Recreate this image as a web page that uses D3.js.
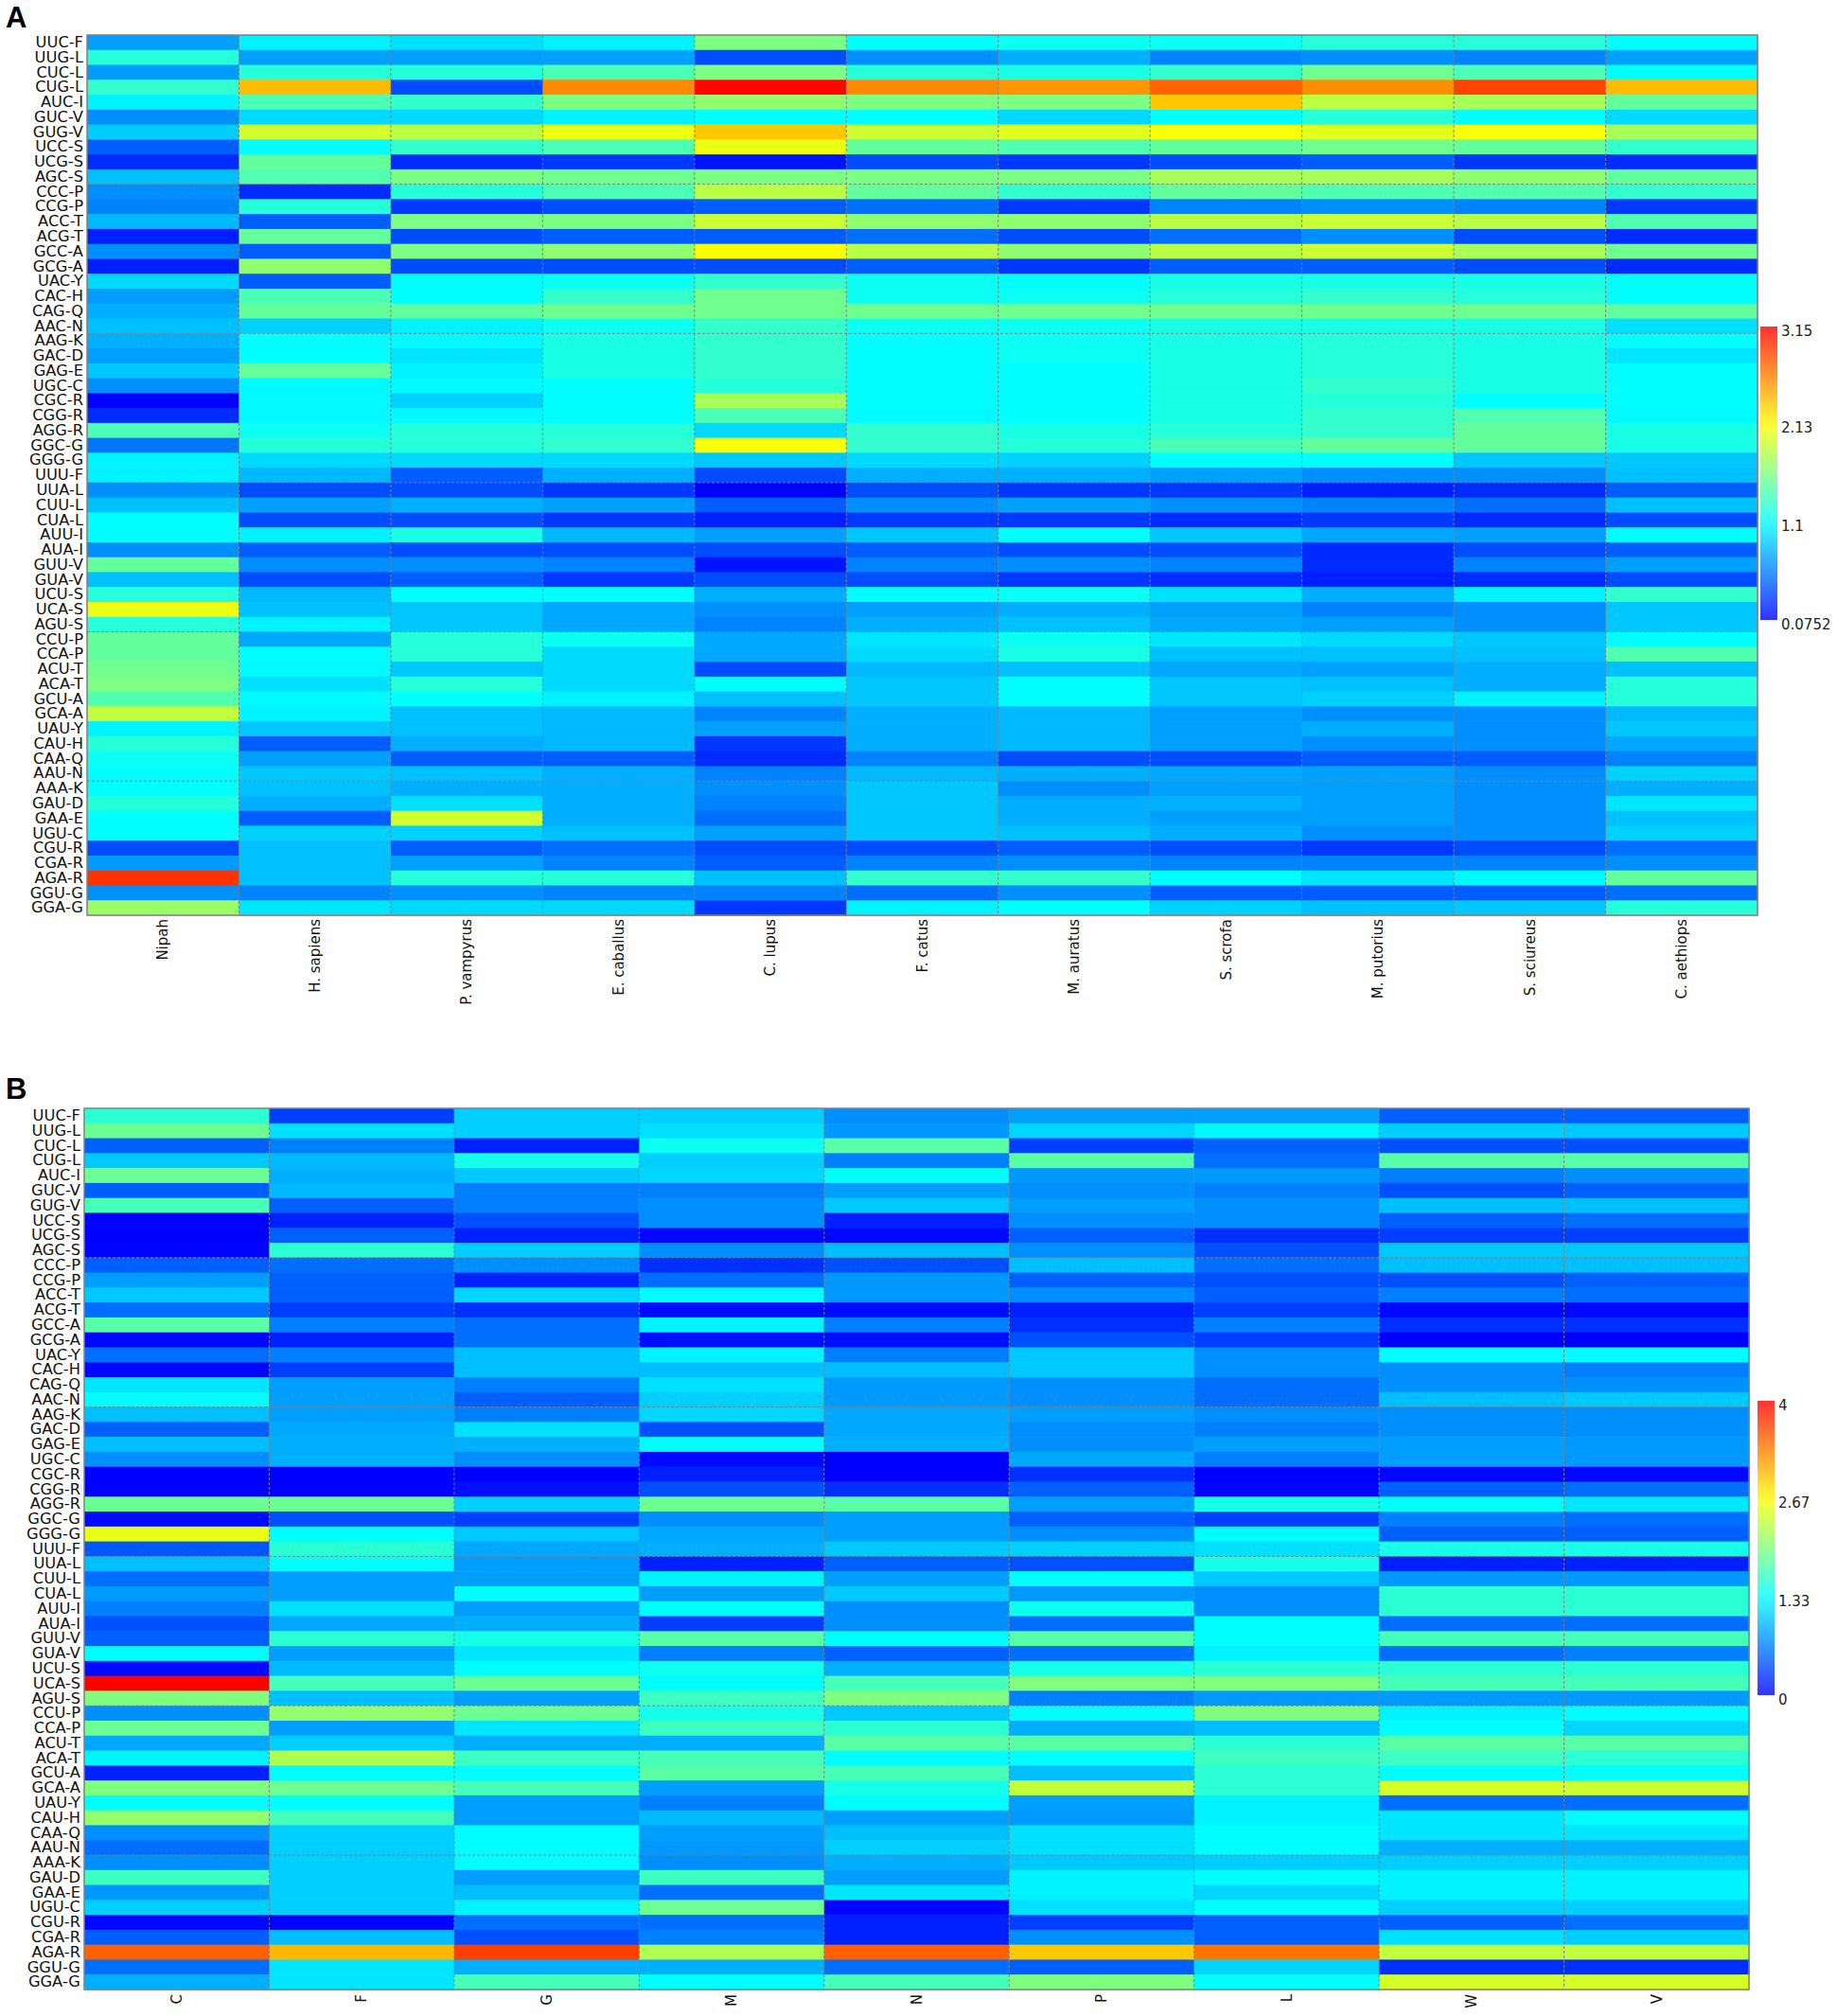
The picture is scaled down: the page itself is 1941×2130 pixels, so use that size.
<!DOCTYPE html>
<html>
<head>
<meta charset="utf-8">
<script src="https://cdn.jsdelivr.net/npm/d3@7/dist/d3.min.js"></script>
</head>
<body style="margin: 0; background: #ffffff;">
<div id="chart"></div>
<script>
'use strict';

// codon rows, top to bottom (same order in both panels)
var codons = [
  "UUC-F","UUG-L","CUC-L","CUG-L","AUC-I","GUC-V","GUG-V","UCC-S","UCG-S","AGC-S",
  "CCC-P","CCG-P","ACC-T","ACG-T","GCC-A","GCG-A","UAC-Y","CAC-H","CAG-Q","AAC-N",
  "AAG-K","GAC-D","GAG-E","UGC-C","CGC-R","CGG-R","AGG-R","GGC-G","GGG-G","UUU-F",
  "UUA-L","CUU-L","CUA-L","AUU-I","AUA-I","GUU-V","GUA-V","UCU-S","UCA-S","AGU-S",
  "CCU-P","CCA-P","ACU-T","ACA-T","GCU-A","GCA-A","UAU-Y","CAU-H","CAA-Q","AAU-N",
  "AAA-K","GAU-D","GAA-E","UGU-C","CGU-R","CGA-R","AGA-R","GGU-G","GGA-G"
];

// ---- panel A : RSCU of Nipah and hosts ----
var hostsA = ["Nipah","H. sapiens","P. vampyrus","E. caballus","C. lupus","F. catus",
              "M. auratus","S. scrofa","M. putorius","S. sciureus","C. aethiops"];
var ticksA = [3.15, 2.13, 1.1, 0.0752];

var nipah = [0.72,1.25,0.70,1.30,1.05,0.65,0.90,0.45,0.25,0.85, 0.65,0.60,0.82,0.20,0.65,0.20,0.95,0.70,0.78,0.85,
             0.78,0.72,0.88,0.65,0.08,0.25,1.40,0.55,1.05,1.05, 0.65,0.85,1.10,1.10,0.65,1.50,0.85,1.25,2.05,1.25,
             1.50,1.50,1.55,1.60,1.42,1.88,1.05,1.25,1.15,1.10, 1.10,1.25,1.10,1.10,0.38,0.70,2.95,0.65,1.72];
var hSapiens = [1.05,0.72,1.25,2.40,1.40,0.95,1.95,1.10,1.50,1.42, 0.25,1.25,0.45,1.50,0.45,1.68,0.45,1.40,1.50,0.92,
                1.10,1.10,1.50,1.08,1.08,1.08,1.15,1.25,0.95,0.82, 0.38,0.72,0.38,1.05,0.45,0.65,0.38,0.82,0.85,1.05,
                0.75,1.10,1.08,0.98,1.08,1.05,0.88,0.45,0.72,0.88, 0.85,0.78,0.45,0.92,0.85,0.85,0.85,0.60,1.00];
var pVampyrus = [0.98,0.72,1.25,0.38,1.30,0.95,1.85,1.30,0.25,1.60, 1.25,0.30,1.60,0.38,1.60,0.38,1.10,1.10,1.50,1.05,
                 1.08,1.00,1.05,1.08,0.92,1.08,1.25,1.25,0.95,0.45, 0.38,0.78,0.38,1.20,0.38,0.65,0.45,1.10,0.88,0.88,
                 1.25,1.25,0.88,1.25,1.10,0.85,0.85,0.78,0.45,0.85, 0.78,0.98,1.95,0.92,0.45,0.72,1.25,0.65,0.95];
var eCaballus = [1.05,0.72,1.40,2.60,1.60,1.05,2.05,1.40,0.30,1.55, 1.40,0.38,1.60,0.45,1.68,0.38,1.15,1.30,1.55,1.15,
                 1.20,1.20,1.20,1.10,1.10,1.10,1.25,1.30,0.95,0.78, 0.30,0.72,0.30,0.82,0.38,0.60,0.30,1.10,0.75,0.75,
                 1.15,0.95,0.95,0.95,1.05,0.82,0.82,0.82,0.45,0.78, 0.78,0.78,0.78,0.85,0.52,0.60,1.25,0.60,0.95];
var cLupus = [1.60,0.38,1.60,3.12,1.68,1.10,2.35,2.05,0.15,1.60, 1.85,0.45,1.92,0.45,2.13,0.38,1.30,1.55,1.55,1.30,
              1.30,1.30,1.30,1.25,1.77,1.40,0.95,2.10,0.88,0.38, 0.08,0.45,0.20,0.72,0.38,0.15,0.38,0.78,0.65,0.60,
              0.75,0.75,0.38,1.10,0.85,0.60,0.72,0.30,0.25,0.60, 0.65,0.60,0.52,0.72,0.38,0.45,0.85,0.60,0.30];
var fCatus = [1.10,0.65,1.25,2.60,1.60,1.10,1.92,1.50,0.38,1.60, 1.50,0.52,1.68,0.52,1.85,0.45,1.15,1.15,1.55,1.15,
              1.10,1.10,1.10,1.10,1.10,1.08,1.30,1.30,0.95,0.78, 0.38,0.65,0.30,0.88,0.45,0.60,0.38,1.10,0.72,0.78,
              1.00,0.95,0.82,0.88,0.88,0.78,0.78,0.78,0.60,0.82, 0.88,0.88,0.88,0.88,0.38,0.60,1.30,0.52,1.05];
var mAuratus = [1.15,0.78,1.20,2.55,1.60,0.95,2.00,1.42,0.30,1.60, 1.30,0.30,1.68,0.38,1.68,0.30,1.10,1.15,1.55,1.15,
                1.15,1.15,1.10,1.10,1.10,1.10,1.20,1.25,0.92,0.78, 0.30,0.72,0.30,1.10,0.38,0.65,0.30,1.15,0.78,0.85,
                1.15,1.20,0.85,1.10,1.10,0.82,0.82,0.82,0.38,0.78, 0.65,0.78,0.78,0.85,0.45,0.65,1.30,0.65,1.10];
var sScrofa = [1.15,0.60,1.30,2.75,2.35,1.10,2.10,1.50,0.38,1.77, 1.50,0.60,1.85,0.52,1.85,0.45,1.20,1.25,1.55,1.20,
               1.20,1.20,1.20,1.20,1.20,1.20,1.25,1.40,1.10,0.72, 0.30,0.65,0.25,0.88,0.38,0.60,0.25,0.98,0.72,0.75,
               1.00,0.85,0.75,0.88,0.88,0.72,0.72,0.72,0.38,0.75, 0.72,0.78,0.72,0.78,0.38,0.60,1.10,0.45,0.92];
var mPutorius = [1.25,0.65,1.55,2.58,1.85,1.25,2.00,1.55,0.45,1.77, 1.42,0.65,1.92,0.65,1.92,0.45,1.20,1.30,1.55,1.20,
                 1.25,1.25,1.25,1.30,1.25,1.30,1.30,1.50,1.10,0.65, 0.20,0.60,0.30,0.75,0.25,0.25,0.20,0.78,0.60,0.72,
                 0.95,0.85,0.72,0.85,0.92,0.65,0.78,0.65,0.45,0.72, 0.72,0.72,0.72,0.65,0.30,0.60,1.00,0.45,0.85];
var sSciureus = [1.25,0.60,1.40,2.88,1.77,1.10,2.10,1.50,0.30,1.68, 1.42,0.60,1.85,0.38,1.77,0.38,1.20,1.25,1.55,1.20,
                 1.20,1.20,1.20,1.20,1.10,1.42,1.50,1.50,0.88,0.65, 0.25,0.52,0.25,0.72,0.38,0.60,0.25,1.05,0.65,0.65,
                 0.88,0.85,0.78,0.78,1.05,0.65,0.65,0.65,0.45,0.65, 0.65,0.65,0.65,0.65,0.38,0.60,1.08,0.45,0.88];
var cAethiops = [1.10,0.72,1.10,2.40,1.50,0.95,1.77,1.30,0.25,1.50, 1.30,0.30,1.42,0.25,1.55,0.25,1.10,1.10,1.50,0.98,
                 1.10,1.00,1.10,1.10,1.10,1.08,1.20,1.20,0.88,0.85, 0.45,0.85,0.38,1.10,0.45,0.72,0.38,1.30,0.88,0.88,
                 1.10,1.42,0.85,1.25,1.25,0.82,0.88,0.75,0.60,0.92, 0.78,1.00,0.85,0.92,0.52,0.65,1.50,0.52,1.25];

// ---- panel B : RSCU per Nipah gene ----
var genesB = ["C","F","G","M","N","P","L","W","V"];
var ticksB = [4, 2.67, 1.33, 0];

var geneC = [1.56,1.90,0.50,1.05,1.90,0.50,1.70,0.00,0.00,0.02, 0.50,0.83,1.05,0.58,1.80,0.03,0.58,0.03,1.20,1.33,
             1.00,0.50,1.00,0.75,0.00,0.00,1.90,0.05,2.55,0.45, 1.00,0.58,0.80,0.67,0.42,0.50,1.33,0.05,4.00,2.00,
             0.75,1.90,0.88,1.27,0.17,2.00,1.33,2.10,0.75,0.58, 0.75,1.65,0.80,1.08,0.03,0.50,3.50,0.58,0.92];
var geneF = [0.33,1.17,0.67,0.97,0.92,0.97,0.50,0.17,0.50,1.56, 0.58,0.50,0.50,0.33,0.67,0.17,0.67,0.33,0.83,0.83,
             0.83,0.88,0.92,0.92,0.00,0.00,1.90,0.42,1.33,1.56, 1.33,0.83,0.83,1.17,0.88,1.56,0.83,0.97,1.70,1.00,
             2.10,0.83,1.08,2.25,1.33,1.90,1.33,1.70,1.08,1.08, 1.08,1.08,1.08,1.08,0.02,1.00,3.05,1.20,1.20];
var geneG = [1.08,1.08,0.17,1.45,1.05,0.67,0.67,0.42,0.17,1.08, 0.75,0.17,1.12,0.25,0.58,0.58,1.00,1.00,0.67,0.50,
             0.67,1.17,0.92,0.75,0.00,0.08,1.08,0.33,1.05,0.88, 0.83,0.83,1.33,0.83,0.92,1.45,1.20,1.33,1.90,0.83,
             1.90,1.20,0.92,1.65,1.33,1.70,0.83,0.83,1.33,1.33, 1.33,0.83,1.00,1.27,0.58,0.42,3.67,0.92,1.70];
var geneM = [1.08,1.17,1.40,1.08,1.12,0.67,0.75,0.75,0.03,0.75, 0.25,0.58,1.33,0.05,1.27,0.08,1.27,1.00,1.17,1.08,
             1.12,0.42,1.33,0.05,0.17,0.42,1.90,0.75,0.88,0.92, 0.17,1.27,0.83,1.33,0.33,1.80,0.67,1.40,1.33,1.65,
             1.45,1.65,0.92,1.70,1.80,0.83,0.67,0.97,0.83,0.80, 0.75,1.65,0.58,1.90,0.58,0.67,2.25,0.92,1.33];
var geneN = [0.75,0.80,1.80,0.67,1.33,0.83,1.05,0.17,0.03,1.00, 0.42,0.80,0.80,0.05,0.67,0.08,0.67,1.00,0.80,0.80,
             0.88,0.88,0.92,0.00,0.00,0.25,1.80,0.83,0.83,1.05, 0.50,0.83,1.05,0.75,0.75,1.33,0.50,0.92,1.70,2.00,
             1.05,1.56,1.80,1.33,1.70,1.45,1.33,0.83,1.00,1.08, 0.92,0.83,1.20,0.03,0.17,0.17,3.50,0.58,1.70];
var geneP = [0.83,1.12,0.33,1.80,0.80,0.75,0.83,0.75,0.50,0.75, 1.00,0.50,0.75,0.17,0.25,0.42,1.05,1.05,0.75,0.75,
             0.83,0.75,0.75,0.88,0.25,0.50,0.83,0.50,0.75,1.10, 0.42,1.33,0.80,1.40,0.58,1.80,0.58,1.45,2.00,0.67,
             1.33,0.92,1.80,1.33,1.00,2.35,0.83,0.80,1.17,1.17, 1.05,1.27,1.27,1.17,0.33,0.75,2.95,0.50,2.00];
var geneL = [0.83,1.30,0.50,0.58,0.80,0.67,0.75,0.75,0.25,0.42, 0.58,0.42,0.50,0.33,0.67,0.33,0.75,0.75,0.58,0.58,
             0.75,0.67,0.83,0.67,0.00,0.02,1.45,0.33,1.33,1.17, 1.45,1.05,0.75,0.75,1.33,1.33,1.27,1.56,2.00,0.80,
             2.00,1.00,1.56,1.65,1.56,1.56,1.27,1.27,1.33,1.33, 1.08,1.33,1.12,1.33,0.50,0.50,3.40,1.12,1.33];
var geneW = [0.50,1.08,0.42,1.80,0.67,0.42,1.00,0.50,0.33,1.05, 1.00,0.42,0.67,0.03,0.25,0.00,1.33,0.75,0.75,1.00,
             0.75,0.75,0.83,0.83,0.03,0.50,1.33,0.67,0.50,1.45, 0.17,0.80,1.56,1.56,0.58,1.70,0.58,1.56,1.70,0.80,
             1.27,1.33,1.80,1.65,1.33,2.45,0.58,1.20,1.20,0.92, 1.08,1.27,1.27,1.08,0.50,1.17,2.35,0.25,2.45];
var geneV = [0.50,1.05,0.42,1.80,0.75,0.50,1.00,0.58,0.33,1.05, 1.00,0.50,0.58,0.03,0.25,0.00,1.33,0.67,0.75,1.05,
             0.75,0.75,0.80,0.80,0.03,0.58,1.20,0.58,0.50,1.45, 0.17,0.80,1.56,1.56,0.58,1.70,0.67,1.56,1.70,0.80,
             1.33,1.12,1.80,1.56,1.33,2.40,0.58,1.33,1.20,0.92, 1.08,1.27,1.27,1.08,0.58,1.08,2.35,0.25,2.45];

var columnsA = [nipah, hSapiens, pVampyrus, eCaballus, cLupus, fCatus, mAuratus, sScrofa, mPutorius, sSciureus, cAethiops];
var columnsB = [geneC, geneF, geneG, geneM, geneN, geneP, geneL, geneW, geneV];

var W = 1941, H = 2130;
var labelFont = "'DejaVu Sans', Verdana, sans-serif";
var gridColor = "#808080";

var svg = d3.select("#chart").append("svg")
    .attr("width", W)
    .attr("height", H)
    .style("display", "block")
    .style("background", "#ffffff");

// jet-like map: blue -> cyan -> yellow -> red
function jet(lo, hi) {
    var span = hi - lo;
    return d3.scaleLinear()
        .domain([lo, lo + span / 3, lo + 2 * span / 3, hi])
        .range(["#0000ff", "#00ffff", "#ffff00", "#ff0000"])
        .clamp(true);
}

function drawPanel(opt) {
    var g = svg.append("g");
    var color = jet(opt.min, opt.max);

    var x = d3.scaleBand().domain(opt.cols).range([opt.left, opt.right]);
    var y = d3.scaleBand().domain(codons).range([opt.top, opt.bottom]);

    var cells = [];
    opt.data.forEach(function(col, ci) {
        col.forEach(function(v, ri) {
            cells.push({col: opt.cols[ci], row: codons[ri], value: v});
        });
    });

    g.append("g").selectAll("rect")
        .data(cells)
        .enter().append("rect")
        .attr("x", function(d) { return x(d.col); })
        .attr("y", function(d) { return y(d.row); })
        .attr("width", x.bandwidth() + 0.6)
        .attr("height", y.bandwidth() + 0.6)
        .attr("fill", function(d) { return color(d.value); });

    // dashed grid: every column, every 10 rows
    var grid = g.append("g")
        .attr("stroke", gridColor)
        .attr("stroke-width", 1)
        .attr("stroke-dasharray", "3,2");
    grid.selectAll("line.v")
        .data(opt.cols.slice(1))
        .enter().append("line")
        .attr("class", "v")
        .attr("x1", function(d) { return x(d); })
        .attr("x2", function(d) { return x(d); })
        .attr("y1", opt.top)
        .attr("y2", opt.bottom);
    grid.selectAll("line.h")
        .data(codons.filter(function(d, i) { return i > 0 && i % 10 === 0; }))
        .enter().append("line")
        .attr("class", "h")
        .attr("x1", opt.left)
        .attr("x2", opt.right)
        .attr("y1", function(d) { return y(d); })
        .attr("y2", function(d) { return y(d); });

    g.append("rect")
        .attr("x", opt.left)
        .attr("y", opt.top)
        .attr("width", opt.right - opt.left)
        .attr("height", opt.bottom - opt.top)
        .attr("fill", "none")
        .attr("stroke", gridColor)
        .attr("stroke-width", 1.5);

    // row labels
    var yAxis = g.append("g")
        .attr("transform", "translate(" + opt.left + ",0)")
        .call(d3.axisLeft(y).tickSize(0).tickPadding(4));
    yAxis.select(".domain").remove();
    yAxis.selectAll("text")
        .style("font-family", labelFont)
        .style("font-size", "16.3px")
        .attr("fill", "#111");

    // column labels, rotated
    var xAxis = g.append("g")
        .attr("transform", "translate(0," + opt.bottom + ")")
        .call(d3.axisBottom(x).tickSize(0));
    xAxis.select(".domain").remove();
    xAxis.selectAll("text")
        .attr("transform", "rotate(-90)")
        .attr("x", -opt.labelGap)
        .attr("y", 0)
        .attr("dy", "0.35em")
        .style("text-anchor", "end")
        .style("font-family", labelFont)
        .style("font-size", "15px")
        .attr("fill", "#111");

    // colour bar
    var gradId = "grad" + opt.name;
    var grad = svg.append("defs").append("linearGradient")
        .attr("id", gradId)
        .attr("x1", "0").attr("y1", "1").attr("x2", "0").attr("y2", "0");
    d3.range(0, 1.0001, 0.05).forEach(function(t) {
        grad.append("stop")
            .attr("offset", t)
            .attr("stop-color", color(opt.min + t * (opt.max - opt.min)));
    });
    var cb = d3.scaleLinear().domain([opt.min, opt.max]).range([opt.cbBottom, opt.cbTop]);
    g.append("rect")
        .attr("x", opt.cbX)
        .attr("y", opt.cbTop)
        .attr("width", 18)
        .attr("height", opt.cbBottom - opt.cbTop)
        .attr("fill", "url(#" + gradId + ")")
        .attr("opacity", 0.8);
    var cAxis = g.append("g")
        .attr("transform", "translate(" + (opt.cbX + 18) + ",0)")
        .call(d3.axisRight(cb).tickValues(opt.ticks).tickSize(0).tickPadding(4)
              .tickFormat(function(d) { return String(d); }));
    cAxis.select(".domain").remove();
    cAxis.selectAll("text")
        .attr("dy", "0.6em")
        .style("font-family", labelFont)
        .style("font-size", "15px")
        .attr("fill", "#222");

    // panel letter
    svg.append("text")
        .attr("x", 6)
        .attr("y", opt.letterY)
        .style("font-family", "'Liberation Sans', Arial, sans-serif")
        .style("font-weight", "bold")
        .style("font-size", "31px")
        .text(opt.name);
}

drawPanel({
    name: "A", cols: hostsA, data: columnsA, min: 0.0752, max: 3.15, ticks: ticksA,
    left: 92, right: 1857, top: 37, bottom: 967, labelGap: 4,
    cbX: 1860, cbTop: 345, cbBottom: 655, letterY: 29
});

drawPanel({
    name: "B", cols: genesB, data: columnsB, min: 0, max: 4, ticks: ticksB,
    left: 89, right: 1848, top: 1171, bottom: 2102, labelGap: 5,
    cbX: 1857, cbTop: 1480, cbBottom: 1791, letterY: 1161
});
</script>
</body>
</html>
